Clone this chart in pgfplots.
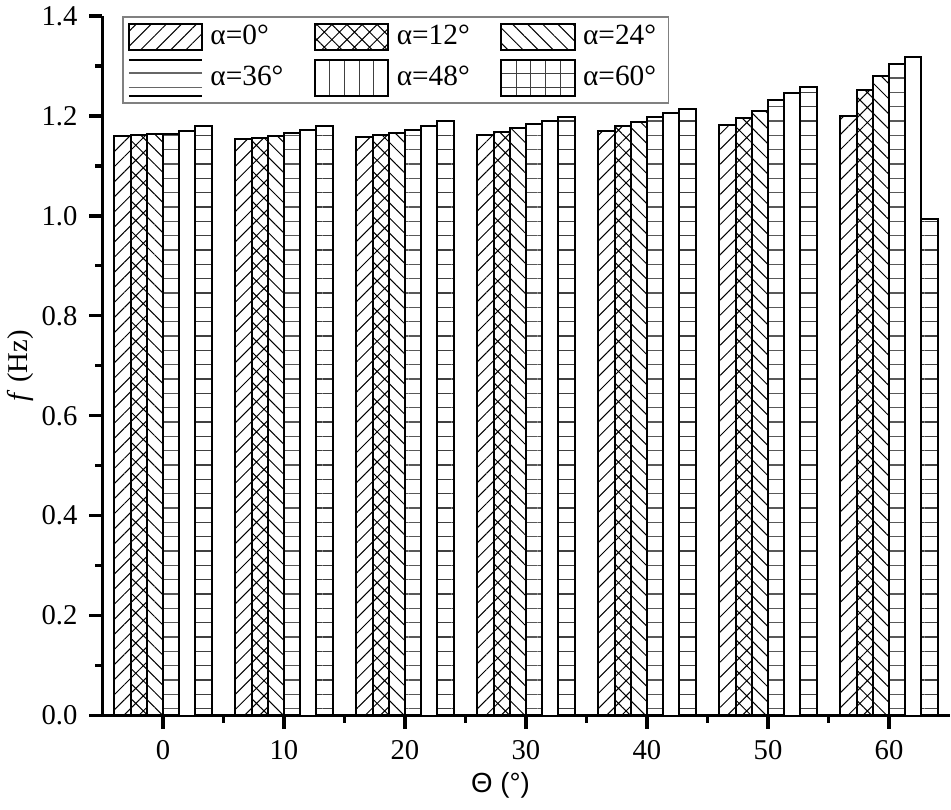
\documentclass[border=0pt]{standalone}
\usepackage{pgfplots}
\usepackage{pgfplotstable}
\pgfplotsset{compat=1.18}
\usetikzlibrary{patterns.meta}
\usepackage{fontspec}
\setmainfont{Liberation Serif}
\newfontfamily\sansfont{Liberation Sans}

% f (Hz) for each theta, one column per alpha
\pgfplotstableread{
theta a0    a12   a24   a36   a48   a60
0     1.160 1.162 1.164 1.164 1.169 1.179
10    1.153 1.156 1.159 1.165 1.172 1.180
20    1.157 1.161 1.166 1.172 1.180 1.189
30    1.162 1.168 1.175 1.183 1.190 1.198
40    1.169 1.179 1.188 1.197 1.206 1.213
50    1.181 1.196 1.209 1.232 1.245 1.258
60    1.200 1.252 1.280 1.303 1.317 0.993
}\freq

\tikzset{
  pA/.style={pattern={Lines[angle=45,distance=3.2pt,line width=0.3pt]},pattern color=black},
  pB/.style={pattern={Hatch[angle=45,distance=3.2pt,line width=0.3pt]},pattern color=black},
  pC/.style={pattern={Lines[angle=-45,distance=3.2pt,line width=0.3pt]},pattern color=black},
  pD/.style={pattern={Lines[angle=0,distance=4.3pt,line width=0.4pt]},pattern color=black!65},
  pFbar/.style={pattern={Lines[angle=0,distance=4.3pt,line width=0.4pt]},pattern color=black!75},
}

% legend boxes drawn from open segments, so the bar pattern has no area to fill
\pgfplotsset{
  leg/.style={legend image code/.code={%
    \draw[draw=black,line width=0.6pt,#1] (0pt,-4pt) rectangle (22pt,4pt);}},
  legD/.style={legend image code/.code={%
    \draw[black!60,line width=0.4pt] (0pt,1.4pt) -- (22pt,1.4pt) (0pt,-3pt) -- (22pt,-3pt);
    \draw[draw=black,line width=0.6pt] (0pt,-5.4pt) -- (22pt,-5.4pt) (0pt,5.4pt) -- (22pt,5.4pt);}},
  legE/.style={legend image code/.code={%
    \draw[black!75,line width=0.35pt,fill=none] (4.4pt,-5.4pt) -- (4.4pt,5.4pt) (8.8pt,-5.4pt) -- (8.8pt,5.4pt)
      (13.2pt,-5.4pt) -- (13.2pt,5.4pt) (17.6pt,-5.4pt) -- (17.6pt,5.4pt);
    \draw[draw=black,line width=0.6pt,fill=none] (0pt,-5.4pt) rectangle (22pt,5.4pt);}},
  legF/.style={legend image code/.code={%
    \draw[black!75,line width=0.35pt] (4.4pt,-5.4pt) -- (4.4pt,5.4pt) (8.8pt,-5.4pt) -- (8.8pt,5.4pt)
      (13.2pt,-5.4pt) -- (13.2pt,5.4pt) (17.6pt,-5.4pt) -- (17.6pt,5.4pt)
      (0pt,1.4pt) -- (22pt,1.4pt) (0pt,-3pt) -- (22pt,-3pt);
    \draw[draw=black,line width=0.6pt,line cap=rect] (0pt,-5.4pt) -- (22pt,-5.4pt) (22pt,-5.4pt) -- (22pt,5.4pt)
      (22pt,5.4pt) -- (0pt,5.4pt) (0pt,5.4pt) -- (0pt,-5.4pt);}},
}

\begin{document}
\begin{tikzpicture}
\begin{axis}[
  scale only axis, width=254.1pt, height=209.85pt,
  ybar=0pt, bar width=1.34,
  xmin=-5, xmax=65, ymin=0, ymax=1.4,
  axis x line=bottom, axis y line=left,
  axis line style={-, line width=1pt},
  every tick/.style={black, line width=1pt},
  tick align=outside,
  major tick length=4pt, minor tick length=2.2pt,
  xtick={0,10,...,60}, minor x tick num=1,
  ytick={0,0.2,...,1.4}, minor y tick num=1,
  yticklabel style={/pgf/number format/.cd, fixed, fixed zerofill, precision=1, assume math mode=true},
  xticklabel style={/pgf/number format/assume math mode=true},
  tick label style={font=\fontsize{8.6}{10}\selectfont},
  every axis x label/.style={at={(rel axis cs:0.47,0)}, anchor=center, yshift=-20.9pt},
  every axis y label/.style={at={(rel axis cs:0,0.5)}, anchor=center, xshift=-24.75pt, rotate=90},
  xlabel={\sansfont\fontsize{8.3}{10}\selectfont \symbol{"0398} (°)},
  ylabel={\fontsize{8.6}{10}\selectfont \textit{f} (Hz)},
  legend columns=3,
  legend style={at={(rel axis cs:0.023,1)}, anchor=north west,
    draw=black!50, line width=0.5pt, inner xsep=1.5pt, inner ysep=1.8pt,
    font=\fontsize{8.8}{10}\selectfont, row sep=2.2pt,
    /tikz/every even column/.append style={column sep=7pt},
    nodes={inner xsep=2.2pt, inner ysep=0pt}},
  legend cell align=left,
]
\addplot[draw=black, line width=0.6pt, pA, leg={pA}] table[x=theta,y=a0]{\freq};
\addplot[draw=black, line width=0.6pt, pB, leg={pB}] table[x=theta,y=a12]{\freq};
\addplot[draw=black, line width=0.6pt, pC, leg={pC}] table[x=theta,y=a24]{\freq};
\addplot[draw=black, line width=0.6pt, pD, legD] table[x=theta,y=a36]{\freq};
\addplot[draw=black, line width=0.6pt, fill=white, legE] table[x=theta,y=a48]{\freq};
\addplot[draw=black, line width=0.6pt, pFbar, legF] table[x=theta,y=a60]{\freq};
\legend{α=0°,α=12°,α=24°,α=36°,α=48°,α=60°}
\coordinate (bl) at (rel axis cs:0,0);
\coordinate (tr) at (rel axis cs:1,1);
\end{axis}
\pgfresetboundingbox
\path[use as bounding box] (bl) ++(-30.75pt,-28.05pt) rectangle ([shift={(0.45pt,4.8pt)}]tr);
\end{tikzpicture}
\end{document}
